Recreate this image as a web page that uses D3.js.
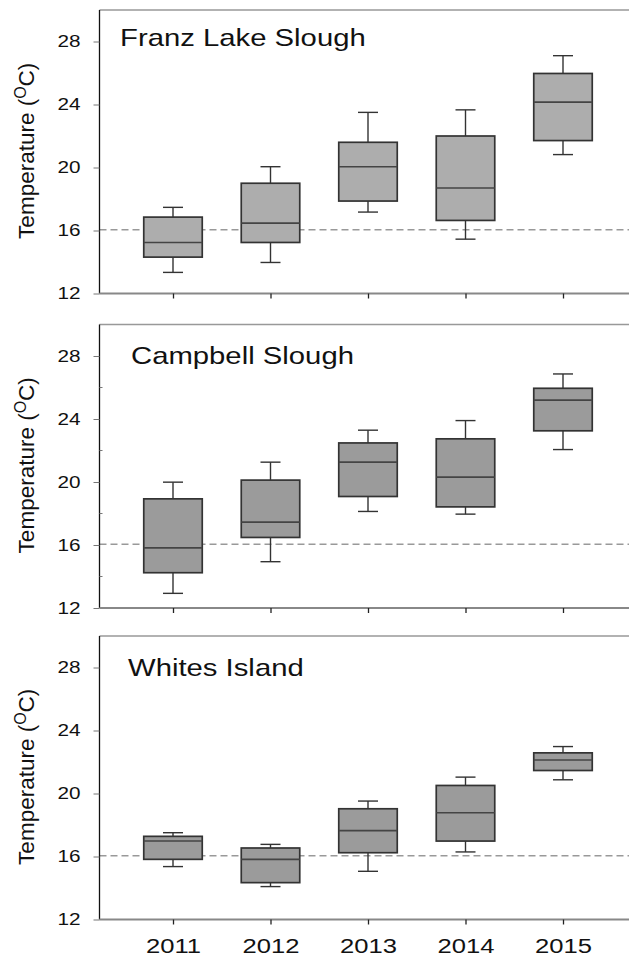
<!DOCTYPE html>
<html>
<head>
<meta charset="utf-8">
<script src="https://cdn.jsdelivr.net/npm/d3@7"></script>
<style>
  body { margin: 0; background: #fff; }
  svg { display: block; font-family: "Liberation Sans", Arial, sans-serif; }
</style>
</head>
<body>
<script>
const width = 629;
const height = 960;

// years on the x axis
const years = ["2011", "2012", "2013", "2014", "2015"];
const sites = ["Franz Lake Slough", "Campbell Slough", "Whites Island"];

// [low whisker, q1, median, q3, high whisker] per year
const franzLake = [
  [13.34, 14.31, 15.24, 16.85, 17.47],
  [13.97, 15.24, 16.47, 19.00, 20.05],
  [17.17, 17.87, 20.05, 21.60, 23.50],
  [15.45, 16.64, 18.70, 22.00, 23.66],
  [20.82, 21.71, 24.15, 25.97, 27.10]
];
const campbell = [
  [12.93, 14.24, 15.82, 18.93, 19.99],
  [14.94, 16.48, 17.45, 20.12, 21.26],
  [18.13, 19.08, 21.26, 22.48, 23.29],
  [17.96, 18.42, 20.31, 22.74, 23.90],
  [22.06, 23.25, 25.20, 25.95, 26.86]
];
const whites = [
  [15.36, 15.82, 16.98, 17.28, 17.51],
  [14.09, 14.34, 15.82, 16.54, 16.77],
  [15.06, 16.24, 17.64, 19.03, 19.52],
  [16.29, 16.98, 18.78, 20.51, 21.04],
  [20.87, 21.46, 22.13, 22.58, 22.98]
];
const siteData = [franzLake, campbell, whites];

const yTicks = [12, 16, 20, 24, 28];
const minorTicks = [14, 18, 22, 26];
const refTemp = 16.05;

// layout
const left = 99.5;
const panelTops = [10, 324.5, 636];
const panelH = 283.5;
const fills = ["#adadad", "#9b9b9b", "#9b9b9b"];
const titleX = [120, 131, 128];
const titleDy = [36, 39, 40];
const sx = 1.22; // the figure text is a bit stretched sideways
const boxW = 58.5;
const capW = 20;

const x = d3.scalePoint().domain(years).range([173, 563]);

const svg = d3.select(document.body).append("svg")
    .attr("width", width)
    .attr("height", height);

siteData.forEach((rows, i) => {
  const top = panelTops[i];
  const y = d3.scaleLinear().domain([12, 30]).range([top + panelH, top]);
  const g = svg.append("g");

  // top frame
  g.append("line")
    .attr("x1", left).attr("x2", width)
    .attr("y1", top).attr("y2", top)
    .attr("stroke", "#999").attr("stroke-width", 1.5);

  // reference line
  g.append("line")
    .attr("x1", left).attr("x2", width)
    .attr("y1", y(refTemp)).attr("y2", y(refTemp))
    .attr("stroke", "#999").attr("stroke-width", 1.5)
    .attr("stroke-dasharray", "7,4");

  // y axis
  const ya = g.append("g")
    .attr("transform", `translate(${left},0)`)
    .call(d3.axisLeft(y).tickValues(yTicks).tickSize(6).tickPadding(13).tickFormat(d3.format("d")));
  ya.select(".domain").attr("stroke", "#111").attr("stroke-width", 1.3)
    .attr("d", `M0,${top}V${top + panelH}`);
  ya.selectAll(".tick line").attr("stroke", "#777");
  ya.selectAll(".tick text")
    .attr("font-size", 17).attr("fill", "#111")
    .attr("x", -19 / sx)
    .attr("transform", `scale(${sx},1)`);

  if (i === 1) {
    g.selectAll(".minor").data(minorTicks).join("line")
      .attr("x1", left).attr("x2", left + 3)
      .attr("y1", d => y(d)).attr("y2", d => y(d))
      .attr("stroke", "#777");
  }

  // x axis line + ticks
  const xa = g.append("g")
    .attr("transform", `translate(0,${top + panelH})`)
    .call(d3.axisBottom(x).tickSize(5).tickFormat(i === 2 ? d => d : ""));
  xa.select(".domain").attr("stroke", "#888").attr("stroke-width", 2)
    .attr("d", `M${left},0H${width}`);
  xa.selectAll(".tick line").attr("stroke", "#222").attr("stroke-width", 1.3);
  xa.selectAll(".tick text")
    .attr("font-size", 21).attr("fill", "#111")
    .attr("y", 19).attr("dy", "0.71em")
    .attr("transform", `scale(${sx},1)`);

  // boxes
  const box = g.selectAll(".box").data(rows).join("g")
    .attr("class", "box")
    .attr("transform", (d, j) => `translate(${x(years[j])},0)`);

  box.append("line")
    .attr("y1", d => y(d[3])).attr("y2", d => y(d[4]))
    .attr("stroke", "#333").attr("stroke-width", 1.4);
  box.append("line")
    .attr("y1", d => y(d[1])).attr("y2", d => y(d[0]))
    .attr("stroke", "#333").attr("stroke-width", 1.4);
  box.selectAll(".cap").data(d => [d[0], d[4]]).join("line")
    .attr("x1", -capW / 2).attr("x2", capW / 2)
    .attr("y1", d => y(d)).attr("y2", d => y(d))
    .attr("stroke", "#333").attr("stroke-width", 1.4);
  box.append("rect")
    .attr("x", -boxW / 2).attr("width", boxW)
    .attr("y", d => y(d[3]))
    .attr("height", d => y(d[1]) - y(d[3]))
    .attr("fill", fills[i])
    .attr("stroke", "#333").attr("stroke-width", 1.7);
  box.append("line")
    .attr("x1", -boxW / 2).attr("x2", boxW / 2)
    .attr("y1", d => y(d[2])).attr("y2", d => y(d[2]))
    .attr("stroke", "#444").attr("stroke-width", 1.6);

  // site title
  g.append("g")
    .attr("transform", `translate(${titleX[i]},${top + titleDy[i]}) scale(${sx},1)`)
    .append("text")
    .attr("font-size", 24).attr("fill", "#111")
    .text(sites[i]);

  // y label
  const lab = g.append("g")
    .attr("transform", `translate(34,${top + panelH / 2 - 1}) rotate(-90)`)
    .append("text")
    .attr("text-anchor", "middle")
    .attr("font-size", 22.5).attr("fill", "#111");
  lab.append("tspan").text("Temperature (");
  lab.append("tspan").attr("font-size", 16).attr("dy", -8).text("O");
  lab.append("tspan").attr("dy", 8).text("C)");
});
</script>
</body>
</html>
